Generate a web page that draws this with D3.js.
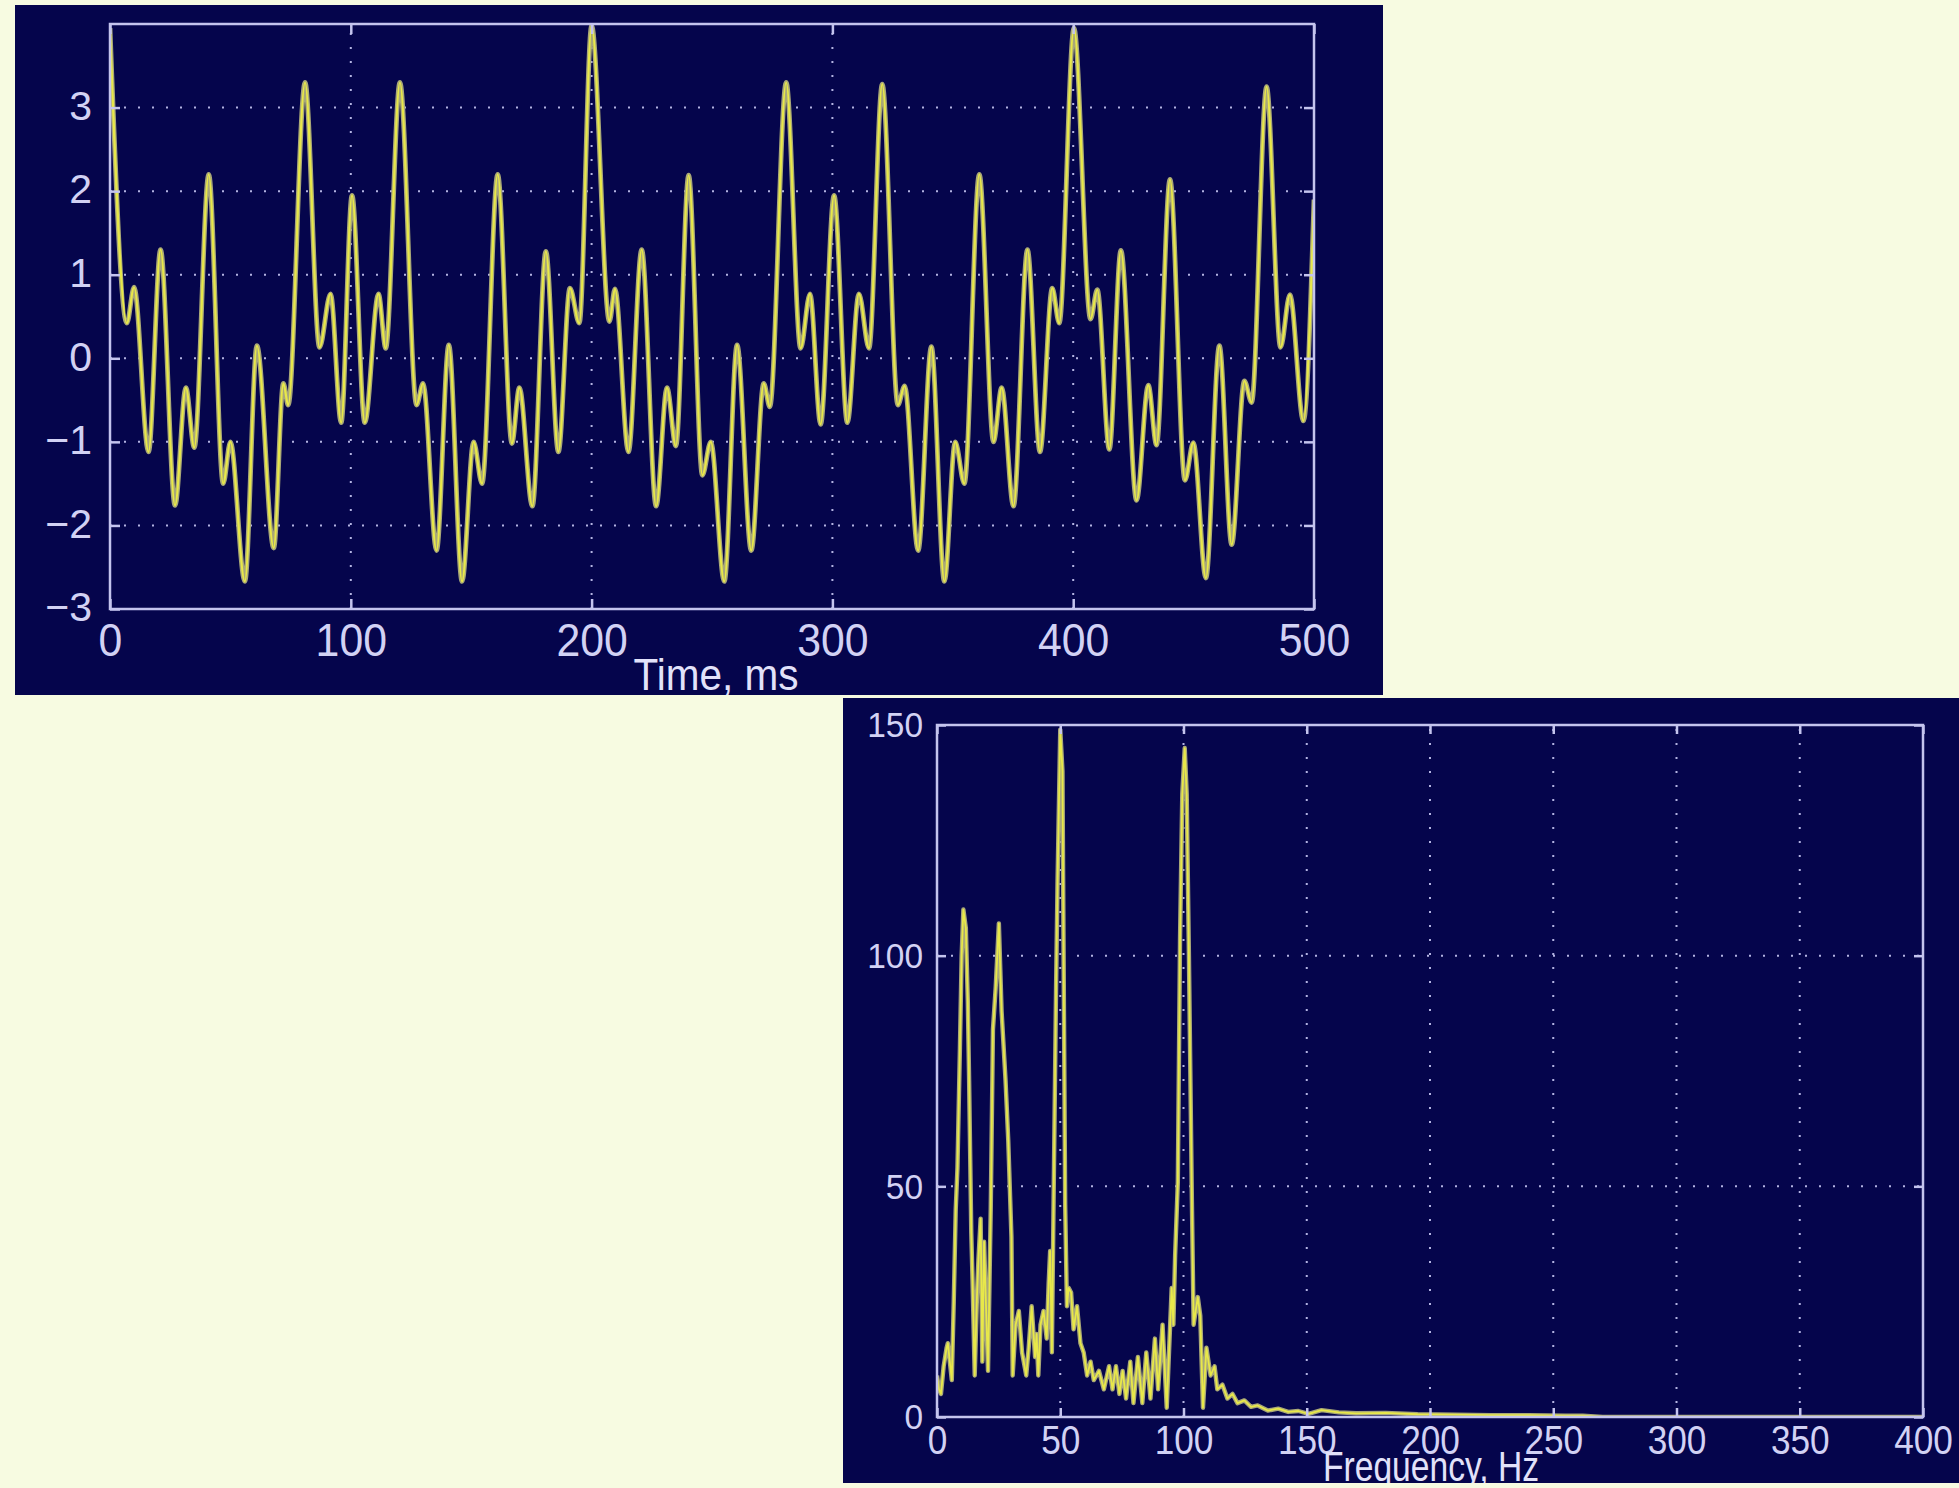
<!DOCTYPE html>
<html>
<head>
<meta charset="utf-8">
<script src="https://cdn.jsdelivr.net/npm/d3@7"></script>
<style>
  html, body { margin: 0; padding: 0; background: #f7fbe1; }
  svg { display: block; }
</style>
</head>
<body>
<div id="chart"></div>
<script>
// time signal (peaks and troughs)
const timeMs = [0, 7, 10, 16, 21, 27, 31.5, 35, 41, 47, 50, 56, 61, 68, 72, 74, 81, 87, 91.6, 96,
  100.5, 105.8, 111.5, 114.5, 120.4, 127.3, 130, 135.6, 140.7, 146.2, 151, 154.5, 161, 166.9, 170, 175.4, 181, 186.2, 191, 194.9,
  200, 207.4, 209.7, 215.3, 220.8, 226.8, 231.3, 235, 240.3, 246, 249.5, 255.1, 260.4, 266.3, 271.5, 274, 280.8, 286.8, 290.7, 295.1,
  300.7, 306.2, 311, 315.2, 320.7, 327.2, 330, 335.6, 341.1, 346.5, 351, 354.8, 361, 366.9, 370.3, 375.2, 381, 386.2, 391.3, 394.2,
  400.3, 407.2, 410, 415, 419.8, 426.3, 431.2, 434.6, 440.2, 446.4, 449.9, 455.1, 460.7, 465.8, 471.1, 474.1, 480.3, 486.1, 490, 495.6, 500];
const signal = [3.95, 0.42, 0.85, -1.12, 1.3, -1.76, -0.35, -1.07, 2.2, -1.5, -1.0, -2.67, 0.15, -2.27, -0.3, -0.56, 3.3, 0.13, 0.77, -0.77,
  1.95, -0.77, 0.77, 0.12, 3.3, -0.56, -0.3, -2.3, 0.16, -2.67, -1.0, -1.5, 2.2, -1.02, -0.35, -1.77, 1.28, -1.12, 0.84, 0.42,
  3.98, 0.44, 0.83, -1.12, 1.3, -1.77, -0.35, -1.05, 2.19, -1.4, -1.0, -2.67, 0.16, -2.3, -0.3, -0.58, 3.3, 0.12, 0.77, -0.79,
  1.95, -0.77, 0.77, 0.12, 3.28, -0.56, -0.33, -2.3, 0.14, -2.67, -1.0, -1.5, 2.2, -1.0, -0.35, -1.77, 1.3, -1.12, 0.84, 0.42,
  3.95, 0.47, 0.82, -1.09, 1.29, -1.7, -0.32, -1.04, 2.14, -1.46, -1.01, -2.63, 0.15, -2.23, -0.27, -0.53, 3.25, 0.13, 0.76, -0.75, 1.9];

// magnitude spectrum
const freqHz = [0, 0.8, 1.6, 2.7, 3.9, 4.4, 5.2, 6.0, 6.8, 7.6, 8.3, 9.3, 10.0, 10.7, 11.7, 12.5, 13.0, 13.9, 14.4, 15.3,
  16.2, 16.8, 17.7, 18.4, 19.1, 20.0, 20.7, 21.8, 22.7, 23.8, 25.1, 26.2, 27.8, 28.9, 30.2, 30.7, 31.9, 33.2, 34.5, 36.2,
  37.2, 38.4, 39.8, 40.4, 41.1, 42.0, 43.2, 44.5, 45.3, 45.9, 46.6, 47.3, 48.3, 48.9, 50.0, 50.9, 52.0, 52.7, 53.4, 54.4,
  55.4, 56.8, 58.2, 59.5, 60.9, 62.3, 63.6, 65.7, 67.7, 69.8, 71.2, 72.6, 74.0, 75.3, 76.7, 78.4, 79.7, 81.5, 83.3, 84.9,
  86.6, 88.4, 89.7, 91.5, 93.2, 95.2, 95.9, 96.6, 97.7, 98.6, 99.5, 100.5, 101.3, 102.2, 103.4, 104.1, 105.8, 106.8, 107.9, 109.3,
  111.0, 112.6, 113.7, 115.8, 117.8, 119.9, 121.9, 124.7, 127.4, 130.1, 134.2, 138.4, 142.5, 146.6, 150.7, 156, 163, 170, 182, 195,
  210, 225, 240, 255, 262, 270, 300, 350, 400];
const magnitude = [9, 6, 5, 11, 15, 16, 12, 8, 25, 45, 54, 80, 100, 110, 106, 90, 74, 40, 30, 9,
  26, 34, 43, 12, 38, 22, 10, 45, 84, 93, 107, 88, 73, 60, 39, 9, 20, 23, 14, 9,
  15, 24, 13, 18, 9, 20, 23, 17, 29, 36, 14, 47, 93, 116, 149, 140, 46, 24, 28, 27,
  19, 24, 16, 14, 9, 12, 8, 10, 6, 11, 6, 11, 5, 10, 4, 12, 3, 13, 3, 14,
  4, 17, 6, 20, 2, 28, 20, 35, 51, 104, 135, 145, 135, 100, 47, 20, 26, 22, 2, 15,
  9, 11, 6, 7, 4, 5, 3, 3.6, 2.2, 2.5, 1.4, 1.8, 1.1, 1.3, 0.7, 1.5, 1.0, 0.8, 0.9, 0.6,
  0.5, 0.4, 0.4, 0.3, 0.3, 0, 0, 0, 0];

const timeTicks = [0, 100, 200, 300, 400, 500];
const signalTicks = [-3, -2, -1, 0, 1, 2, 3];
const freqTicks = [0, 50, 100, 150, 200, 250, 300, 350, 400];
const magTicks = [0, 50, 100, 150];

const W = 1959, H = 1488;
const NAVY = "#05054c";
const AXIS = "#c4c4ee";
const LABEL = "#d2d2f4";
const GRID = "#b4b4e2";
const FONT = "'Liberation Sans', Arial, sans-serif";
const fmt = d3.format("d");

const svg = d3.select("#chart").append("svg")
  .attr("width", W)
  .attr("height", H)
  .style("background", "#f7fbe1");

let clipCount = 0;

function drawPanel(o) {
  const g = svg.append("g");
  const clipPanel = "clip" + (clipCount++);
  const clipPlot = "clip" + (clipCount++);

  g.append("clipPath").attr("id", clipPanel).append("rect")
    .attr("x", o.panel[0]).attr("y", o.panel[1]).attr("width", o.panel[2]).attr("height", o.panel[3]);
  g.append("clipPath").attr("id", clipPlot).append("rect")
    .attr("x", o.plot.left).attr("y", o.plot.top - 2)
    .attr("width", o.plot.right - o.plot.left).attr("height", o.plot.bottom - o.plot.top + 2);

  g.append("rect")
    .attr("x", o.panel[0]).attr("y", o.panel[1])
    .attr("width", o.panel[2]).attr("height", o.panel[3])
    .attr("fill", NAVY);

  const x = d3.scaleLinear().domain(o.xDomain).range([o.plot.left, o.plot.right]);
  const y = d3.scaleLinear().domain(o.yDomain).range([o.plot.bottom, o.plot.top]);

  // dotted grid
  const grid = g.append("g")
    .attr("stroke", GRID)
    .attr("stroke-width", 2)
    .attr("stroke-dasharray", "2,12");
  grid.selectAll(".gx")
    .data(o.xTicks.filter((t) => t > o.xDomain[0] && t < o.xDomain[1]))
    .enter().append("line")
    .attr("x1", (d) => x(d)).attr("x2", (d) => x(d))
    .attr("y1", o.plot.bottom).attr("y2", o.plot.top);
  grid.selectAll(".gy")
    .data(o.yTicks.filter((t) => t > o.yDomain[0] && t < o.yDomain[1]))
    .enter().append("line")
    .attr("y1", (d) => y(d)).attr("y2", (d) => y(d))
    .attr("x1", o.plot.left).attr("x2", o.plot.right);

  // trace: olive halo plus yellow core, like the blurred original
  const line = d3.line()
    .x((d) => x(d[0]))
    .y((d) => y(d[1]))
    .curve(o.curve);
  const pts = d3.zip(o.xs, o.ys);
  const trace = g.append("g").attr("clip-path", `url(#${clipPlot})`);
  trace.append("path").datum(pts)
    .attr("d", line)
    .attr("fill", "none")
    .attr("stroke", "#a9a878")
    .attr("stroke-width", o.traceWidth + 2.6)
    .attr("stroke-linejoin", "round");
  trace.append("path").datum(pts)
    .attr("d", line)
    .attr("fill", "none")
    .attr("stroke", "#e8e84a")
    .attr("stroke-width", o.traceWidth)
    .attr("stroke-linejoin", "round");

  // axes with inward ticks on all four sides
  const t = o.tickLen;
  const axB = g.append("g").attr("transform", `translate(0,${o.plot.bottom})`)
    .call(d3.axisBottom(x).tickValues(o.xTicks).tickSize(-t).tickFormat(fmt));
  const axT = g.append("g").attr("transform", `translate(0,${o.plot.top})`)
    .call(d3.axisTop(x).tickValues(o.xTicks).tickSize(-t).tickFormat(""));
  const axL = g.append("g").attr("transform", `translate(${o.plot.left},0)`)
    .call(d3.axisLeft(y).tickValues(o.yTicks).tickSize(-t).tickFormat(fmt));
  const axR = g.append("g").attr("transform", `translate(${o.plot.right},0)`)
    .call(d3.axisRight(y).tickValues(o.yTicks).tickSize(-t).tickFormat(""));

  [axB, axT, axL, axR].forEach((a) => {
    a.attr("color", AXIS).attr("font-family", FONT);
    a.select(".domain").remove();
    a.selectAll("line").attr("stroke-width", 2.5);
  });

  axB.attr("font-size", o.xFont);
  axB.selectAll("text")
    .attr("fill", LABEL)
    .attr("y", o.xLabelBase)
    .attr("dy", 0)
    .attr("transform", `scale(${o.xSquash},1)`);

  axL.attr("font-size", o.yFont);
  axL.selectAll("text")
    .attr("fill", LABEL)
    .attr("x", -o.yLabelGap)
    .attr("y", o.yShift)
    .attr("dy", "0.36em")
    .attr("transform", `scale(${o.ySquash},1)`);

  // frame
  g.append("rect")
    .attr("x", o.plot.left).attr("y", o.plot.top)
    .attr("width", o.plot.right - o.plot.left)
    .attr("height", o.plot.bottom - o.plot.top)
    .attr("fill", "none")
    .attr("stroke", AXIS)
    .attr("stroke-width", 2.5);

  // axis title
  g.append("g").attr("clip-path", `url(#${clipPanel})`)
    .append("text")
    .attr("transform", `translate(${o.title.x},${o.title.y}) scale(${o.title.squash},1)`)
    .attr("text-anchor", "middle")
    .attr("font-family", FONT)
    .attr("font-size", o.title.size)
    .attr("fill", "#e2e2fa")
    .text(o.title.text);
}

drawPanel({
  panel: [15, 5, 1368, 690],
  plot: { left: 110, right: 1314, top: 24, bottom: 609 },
  xDomain: [0, 500],
  yDomain: [-3, 4],
  xTicks: timeTicks,
  yTicks: signalTicks,
  xs: timeMs,
  ys: signal,
  curve: d3.curveMonotoneX,
  traceWidth: 2.2,
  tickLen: 10,
  xFont: 46, xSquash: 0.93, xLabelBase: 47,
  yFont: 41, ySquash: 1, yLabelGap: 18, yShift: -3,
  title: { text: "Time, ms", x: 716, y: 690, size: 45, squash: 0.9 }
});

drawPanel({
  panel: [843, 698, 1116, 785],
  plot: { left: 937, right: 1923, top: 725, bottom: 1417 },
  xDomain: [0, 400],
  yDomain: [0, 150],
  xTicks: freqTicks,
  yTicks: magTicks,
  xs: freqHz,
  ys: magnitude,
  curve: d3.curveLinear,
  traceWidth: 1.8,
  tickLen: 9,
  xFont: 40, xSquash: 0.88, xLabelBase: 37,
  yFont: 36, ySquash: 0.93, yLabelGap: 15, yShift: -1,
  title: { text: "Frequency, Hz", x: 1431, y: 1481, size: 42, squash: 0.8 }
});
</script>
</body>
</html>
